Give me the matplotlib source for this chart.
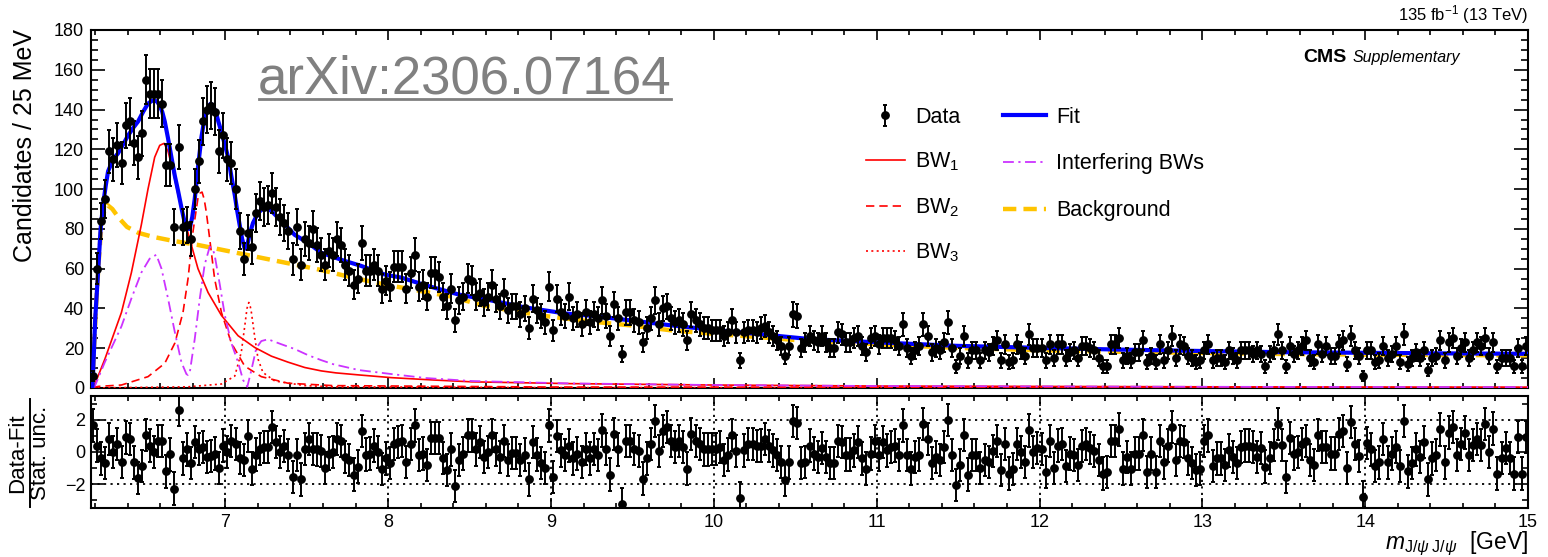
import numpy as np
import matplotlib.pyplot as plt
from matplotlib.lines import Line2D
from matplotlib.transforms import IdentityTransform
from matplotlib.ticker import MultipleLocator

plt.rcParams['font.family'] = ['Liberation Sans', 'DejaVu Sans']
plt.rcParams['mathtext.fontset'] = 'custom'
plt.rcParams['mathtext.rm'] = 'Liberation Sans'
plt.rcParams['mathtext.it'] = 'Liberation Sans:italic'
plt.rcParams['mathtext.bf'] = 'Liberation Sans:bold'

# candidates per 25 MeV bin, 6.175 - 15.0 GeV (353 bins)
counts = [
    6, 60, 84, 95, 119, 115, 122, 113, 132, 134, 123, 116, 128, 155, 148, 148, 148, 143, 112, 112,
    81, 121, 81, 82, 75, 100, 114, 134, 140, 142, 139, 119, 127, 115, 113, 100, 79, 65, 78, 71,
    88, 94, 91, 92, 98, 91, 86, 83, 79, 65, 81, 62, 75, 73, 80, 72, 67, 62, 69, 67,
    75, 72, 62, 59, 52, 55, 73, 59, 59, 62, 59, 50, 54, 51, 61, 61, 61, 50, 58, 67,
    51, 52, 46, 58, 58, 56, 46, 41, 50, 34, 44, 46, 55, 54, 46, 48, 43, 46, 52, 45,
    41, 48, 39, 41, 41, 37, 40, 30, 45, 39, 36, 33, 51, 29, 45, 38, 36, 46, 35, 37,
    32, 38, 33, 37, 35, 44, 36, 26, 42, 35, 17, 38, 38, 34, 33, 23, 30, 35, 44, 32,
    40, 41, 35, 33, 34, 32, 24, 37, 34, 32, 30, 30, 29, 29, 29, 26, 28, 34, 28, 14,
    28, 29, 29, 28, 30, 31, 28, 26, 24, 21, 16, 21, 37, 36, 20, 23, 26, 24, 23, 26,
    23, 20, 20, 28, 27, 23, 23, 25, 26, 21, 18, 25, 26, 22, 25, 25, 25, 24, 21, 32,
    20, 16, 19, 21, 32, 26, 18, 20, 19, 23, 33, 20, 11, 16, 26, 14, 19, 19, 14, 19,
    18, 21, 24, 14, 22, 13, 14, 22, 19, 16, 27, 20, 20, 20, 14, 22, 15, 22, 22, 15,
    18, 19, 15, 21, 21, 20, 19, 15, 11, 11, 22, 22, 25, 14, 16, 14, 18, 18, 24, 13,
    16, 13, 22, 14, 19, 26, 15, 22, 21, 16, 15, 13, 14, 19, 22, 14, 15, 15, 13, 19,
    16, 14, 19, 19, 19, 17, 19, 17, 11, 17, 19, 27, 19, 11, 21, 17, 19, 21, 24, 15,
    13, 22, 17, 21, 16, 16, 22, 24, 12, 26, 19, 16, 6, 19, 19, 13, 14, 21, 15, 17,
    21, 13, 27, 12, 15, 18, 15, 19, 9, 15, 16, 24, 14, 23, 25, 16, 20, 23, 15, 19,
    23, 21, 25, 16, 23, 11, 15, 15, 15, 11, 20, 11, 21,
]

# (data - fit) / stat. unc. for the same bins
pulls = [
    1.65, 0.4, -0.4, -0.7, 0.8, 0, 0.5, -0.6, 0.9, 0.8, -0.65, -1.6, -0.85, 1.07, 0.4, 0, 0.7, 0.7, -1.2, -0.15,
    -2.27, 2.6, -0.4, 0.16, -0.7, 0.6, 0.2, 0.3, -0.3, -0.25, -0.1, -1.0, 0.4, 0, 0.7, 0.5, -0.37, -0.5, 1.0, -1.03,
    -0.16, 0.2, 0.3, 0.3, 1.55, 0.6, 0, 0.37, -0.2, -1.55, -0.2, -1.7, 0.2, 0.8, 0.2, 0.16, 0.04, -1.0, -0.1, 0,
    0.8, 0.7, -0.3, -0.5, -1.4, -0.9, 1.28, -0.16, -0.1, 0.4, 0, -1.07, -0.4, -0.7, 0.5, 0.6, 0.7, -0.6, 0.5, 1.65,
    -0.2, -0.1, -0.8, 0.87, 0.87, 0.87, -0.37, -1.13, 0.16, -2.1, -0.5, -0.1, 1.03, 1.03, 0.16, 0.6, -0.3, 0, 1.03, 0.16,
    -0.3, 0.66, -0.5, -0.04, -0.04, -0.5, -0.16, -1.7, 0.6, -0.16, -0.7, -1.0, 1.65, -1.55, 1.0, 0.1, -0.2, 0.4, -0.4, -0.1,
    -0.6, 0.2, -0.4, 0.2, -0.2, 1.34, 0.2, -1.4, 1.13, 0.16, -3.2, 0.7, 0.7, 0.2, 0.04, -1.65, -0.4, 0.5, 1.9, 0.04,
    1.28, 1.55, 0.66, 0.3, 0.7, 0.3, -1.03, 1.13, 0.66, 0.5, 0.16, 0.16, 0.2, 0.2, 0.3, -0.5, -0.16, 1.07, 0.04, -2.85,
    0.1, 0.5, 0.5, 0.37, 0.4, 0.8, 0.37, 0.1, -0.2, -0.6, -1.75, -0.65, 1.9, 1.8, -0.7, -0.6, 0.4, -0.1, -0.3, 0.25,
    -0.3, -0.7, -0.7, 0.7, 0.6, -0.16, -0.16, 0.1, 0.6, -0.4, -1.03, -0.1, 0.7, -0.16, 0.6, 0.1, 0.3, 0.4, -0.2, 1.65,
    -0.2, -1.03, -0.3, -0.16, 1.75, 0.8, -0.7, -0.3, -0.5, 0.3, 2.0, -0.2, -2.06, -0.8, 1.07, -1.4, -0.2, -0.2, -1.0, -0.5,
    -0.6, 0.04, 0.7, -1.13, 0.5, -1.34, -1.07, 0.5, 0, -0.6, 1.34, 0, 0.25, 0.2, -1.24, 0.66, -1.0, 0.4, 0.5, -0.85,
    -0.1, -0.2, -0.8, 0.37, 0.5, 0.25, 0.04, -0.5, -1.34, -1.24, 0.66, 0.66, 1.4, -1.03, -0.3, -1.03, -0.1, -0.1, 1.07, -1.24,
    -0.1, -1.24, 0.7, -0.65, 0.4, 1.55, -0.5, 0.7, 0.6, -0.4, -0.7, -1.13, -1.03, 0.7, 1.03, -0.85, -0.4, -0.4, -0.8, 0.1,
    -0.3, -0.7, 0.3, 0.4, 0.4, 0.3, -0.3, 0.25, -0.9, -0.37, 0.45, 1.75, 0.45, -1.55, 0.87, -0.1, 0, 0.5, 0.66, -0.5,
    -0.8, 1.07, 0.3, 0.3, -0.1, -0.1, 1.13, 1.28, -1.0, 1.85, 0.5, -0.25, -2.8, 0.58, 0.16, -0.85, -0.65, 0.8, -0.65, -0.1,
    0.3, -0.85, 1.9, -1.2, -0.7, 0.16, -0.3, 0.6, -1.7, -0.4, -0.2, 1.4, -0.65, 1.2, 1.55, -0.2, 0.5, 1.2, -0.2, 0.45,
    0.8, 0.45, 1.75, 0, 1.45, -1.34, -0.37, 0.25, -0.37, -1.34, 0.93, -1.34, 0.93,
]

# fit components (mass in GeV, candidates / 25 MeV)
fit_m = [6.183, 6.188, 6.201, 6.219, 6.234, 6.249, 6.266, 6.280, 6.311, 6.341, 6.376, 6.403, 6.436, 6.464,
         6.496, 6.525, 6.551, 6.566, 6.581, 6.597, 6.612, 6.628, 6.647, 6.669, 6.689, 6.710, 6.732, 6.751,
         6.767, 6.781, 6.797, 6.812, 6.832, 6.853, 6.867, 6.883, 6.897, 6.910, 6.927, 6.944, 6.957, 6.975,
         6.998, 7.017, 7.038, 7.058, 7.073, 7.088, 7.103, 7.119, 7.133, 7.148, 7.170, 7.201, 7.241, 7.283,
         7.344, 7.426, 7.508, 7.589, 7.659, 7.729, 7.830, 7.981, 8.081, 8.232, 8.433, 8.634, 8.835, 9.086,
         9.287, 9.487, 9.739, 9.990, 10.29, 10.59, 10.99, 11.49, 11.99, 12.50, 13.00, 13.50, 14.00, 14.50, 15.00]
fit_y = [0, 8, 35, 59, 80, 92, 102, 109, 115, 118, 123, 127, 131, 134,
         139, 143, 144.5, 144.5, 144, 142, 139, 134, 126, 116, 107, 99, 90, 83,
         80, 80, 86, 95, 111, 126, 133, 138, 141.5, 143, 141.5, 138, 134, 129,
         122, 116, 106, 97, 89, 82, 75, 70, 71, 77, 83, 88, 91, 89,
         84, 77, 73, 68, 66, 64, 61.5, 57, 55.5, 51.6, 47, 44, 40.6, 37.5,
         36, 34, 31.5, 29.3, 27, 24.6, 23, 21.2, 20.2, 19.3, 18.6, 18.0, 17.7, 17.4, 17.2]

bkg_m = [6.183, 6.188, 6.204, 6.221, 6.236, 6.256, 6.276, 6.306, 6.346, 6.396, 6.466, 6.556, 6.677, 6.827,
         6.978, 7.128, 7.278, 7.429, 7.579, 7.781, 7.981, 8.182, 8.383, 8.583, 8.784, 8.984, 9.236, 9.487,
         9.738, 9.990, 10.24, 10.49, 10.74, 10.99, 11.49, 11.99, 12.50, 13.00, 13.50, 14.00, 14.50, 15.00]
bkg_y = [0, 10, 38, 62, 79, 89, 92, 90, 85.5, 81, 78, 76, 74, 72,
         69.5, 67, 64.5, 62, 59.5, 55.5, 52, 49, 46, 41.5, 38.5, 36, 33.5, 31.5,
         29, 27.3, 25.8, 24.2, 23, 22, 20.2, 19, 18.2, 17.6, 17.1, 16.8, 16.6, 16.4]

bw1_m = [6.183, 6.199, 6.260, 6.362, 6.423, 6.484, 6.525, 6.566, 6.597, 6.624, 6.648, 6.679, 6.710,
         6.751, 6.791, 6.832, 6.894, 6.976, 7.078, 7.180, 7.283, 7.385, 7.488, 7.589, 7.679, 7.830,
         8.021, 8.282, 8.513, 9.115, 9.990, 10.99, 11.99, 13.00, 14.00, 15.00]
bw1_y = [0, 2, 14.5, 38, 58, 82, 100, 116, 122, 123, 119, 109, 97,
         84, 72, 60, 48, 36.5, 26.3, 20.4, 16, 13, 10.3, 8.6, 7.6, 6.5,
         5.2, 4.0, 3.1, 2.2, 1.5, 1.0, 0.8, 0.6, 0.5, 0.4]

bw2_m = [6.183, 6.219, 6.362, 6.525, 6.628, 6.690, 6.740, 6.771, 6.802, 6.832, 6.845, 6.857, 6.870,
         6.883, 6.904, 6.934, 6.976, 7.037, 7.119, 7.221, 7.385, 7.661, 8.984, 15.00]
bw2_y = [0, 0.8, 1.5, 5.7, 12.4, 22.6, 38, 55, 79, 95.5, 98, 98.5, 95,
         88.5, 75, 55, 38, 22.6, 11, 5.7, 2.4, 1.2, 0.5, 0.2]

bw3_m = [6.183, 6.771, 6.976, 7.058, 7.098, 7.119, 7.133, 7.144, 7.153, 7.160, 7.180, 7.201, 7.231,
         7.304, 7.488, 7.661, 8.984, 15.00]
bw3_y = [0, 0.6, 2, 6, 18, 31, 40, 43, 41, 38, 26, 14.5, 7.8,
         3.5, 1.2, 0.6, 0.2, 0.05]

int_m = [6.183, 6.199, 6.260, 6.362, 6.423, 6.484, 6.535, 6.576, 6.608, 6.648, 6.690, 6.730, 6.761,
         6.771, 6.781, 6.812, 6.843, 6.873, 6.904, 6.922, 6.934, 6.966, 6.997, 7.037, 7.078, 7.109,
         7.135, 7.160, 7.190, 7.221, 7.262, 7.344, 7.426, 7.508, 7.589, 7.661, 7.821, 8.021, 8.232,
         8.513, 9.115, 9.990, 10.99, 11.99, 13.00, 14.00, 15.00]
int_y = [0, 1, 13, 31, 45, 58, 65, 67, 60, 45, 28, 13, 7,
         6.5, 7.5, 24.6, 45, 62, 71, 70, 67, 52, 36.5, 22.6, 13, 4,
         0.6, 9, 20, 23.6, 24.5, 22, 19.6, 16.5, 14, 12, 9, 7, 5,
         3.5, 2.3, 1.5, 1.0, 0.8, 0.6, 0.5, 0.45]

m_lo, m_hi, bin_w = 6.175, 15.0, 0.025
centers = m_lo + bin_w * (np.arange(len(counts)) + 0.5)
counts = np.array(counts, dtype=float)
errs = np.sqrt(counts)

W, H = 1548, 557
fig = plt.figure(figsize=(W / 100, H / 100), dpi=100)
ax = fig.add_axes([91 / W, 1 - 388 / H, 1437 / W, 358 / H])
ax2 = fig.add_axes([91 / W, 1 - 508 / H, 1437 / W, 112 / H])

c_red = '#ff0000'
c_mag = '#cc33ff'
c_gold = '#ffc400'
c_blue = '#0000ff'

h_bkg, = ax.plot(bkg_m, bkg_y, color=c_gold, lw=3.2, ls=(0, (3.0, 1.6)), label='Background', zorder=2)
h_bw1, = ax.plot(bw1_m, bw1_y, color=c_red, lw=1.2, label='BW$_1$', zorder=3)
h_bw2, = ax.plot(bw2_m, bw2_y, color=c_red, lw=1.2, ls=(0, (5, 3)), label='BW$_2$', zorder=3)
h_bw3, = ax.plot(bw3_m, bw3_y, color=c_red, lw=1.2, ls=(0, (1.2, 2)), label='BW$_3$', zorder=3)
h_int, = ax.plot(int_m, int_y, color=c_mag, lw=1.3, ls=(0, (6, 2.5, 1.2, 2.5)), label='Interfering BWs', zorder=3)
h_fit, = ax.plot(fit_m, fit_y, color=c_blue, lw=3.0, label='Fit', zorder=4)

h_data = ax.errorbar(centers, counts, yerr=errs, fmt='o', color='black', ms=5.3, elinewidth=1.4,
                     capsize=1.6, capthick=1.4, label='Data', zorder=5)

ax.set_xlim(m_lo, m_hi)
ax.set_ylim(0, 180)
ax.yaxis.set_major_locator(MultipleLocator(20))
ax.yaxis.set_minor_locator(MultipleLocator(5))
ax.xaxis.set_major_locator(MultipleLocator(1))
ax.xaxis.set_minor_locator(MultipleLocator(0.2))
ax.tick_params(axis='both', which='both', direction='in', top=True, right=True, width=1.2)
ax.tick_params(axis='x', which='major', length=7)
ax.tick_params(axis='x', which='minor', length=3.5)
ax.tick_params(axis='y', which='major', length=10)
ax.tick_params(axis='y', which='minor', length=5)
ax.tick_params(axis='y', labelsize=13, pad=5)
ax.tick_params(axis='x', labelbottom=False)
for s in ax.spines.values():
    s.set_linewidth(1.5)

leg_kw = dict(frameon=False, loc='upper left', borderaxespad=0, fontsize=15.5,
              handletextpad=0.5, borderpad=0.4)
leg1 = ax.legend(handles=[h_data, h_bw1, h_bw2, h_bw3], bbox_to_anchor=(0.5333, 0.8095),
                 labelspacing=1.06, handlelength=1.8, **leg_kw)
ax.add_artist(leg1)
leg2 = ax.legend(handles=[h_fit, h_int, h_bkg], bbox_to_anchor=(0.6287, 0.8095),
                 labelspacing=1.19, handlelength=1.98, **leg_kw)

# residual panel
ax2.errorbar(centers, pulls, yerr=1.0, fmt='o', color='black', ms=5.3, elinewidth=1.4,
             capsize=1.6, capthick=1.4, zorder=5)
ax2.set_xlim(m_lo, m_hi)
ax2.set_ylim(-3.47, 3.47)
ax2.set_yticks([-2, 0, 2])
ax2.yaxis.set_minor_locator(MultipleLocator(1))
ax2.xaxis.set_major_locator(MultipleLocator(1))
ax2.xaxis.set_minor_locator(MultipleLocator(0.2))
ax2.grid(axis='x', which='major', color='black', ls=(0, (1.2, 2.4)), lw=1.3)
for yv in (-2, 2):
    ax2.axhline(yv, color='black', ls=(0, (1.2, 2.4)), lw=1.3, zorder=1)
ax2.tick_params(axis='both', which='both', direction='in', top=True, right=True, width=1.2)
ax2.tick_params(axis='x', which='major', length=7)
ax2.tick_params(axis='x', which='minor', length=3.5)
ax2.tick_params(axis='y', which='major', length=9)
ax2.tick_params(axis='y', which='minor', length=4.5)
ax2.tick_params(axis='both', labelsize=13, pad=4)
for s in ax2.spines.values():
    s.set_linewidth(1.5)

fig.text(25 / W, 1 - 29 / H, 'Candidates / 25 MeV', rotation=90, ha='center', va='top', fontsize=18)

# residual axis title drawn as a fraction
fig.text(18 / W, 1 - 453 / H, 'Data-Fit', rotation=90, ha='center', va='center', fontsize=16)
fig.text(41 / W, 1 - 453 / H, 'Stat. unc.', rotation=90, ha='center', va='center', fontsize=16)
fig.add_artist(Line2D([29.5 / W, 29.5 / W], [1 - 507 / H, 1 - 399 / H], color='black', lw=1.4,
                      transform=fig.transFigure))

fig.text(1528 / W, 1 - 549 / H, r'$m_{\mathrm{J}/\psi\;\mathrm{J}/\psi}$  [GeV]', ha='right', va='baseline',
         fontsize=16.5)
fig.text(1528 / W, 1 - 20 / H, '135 fb$^{-1}$ (13 TeV)', ha='right', va='baseline', fontsize=12)

supp = ax.text((1460 - 91) / 1437, (388 - 62) / 358, 'Supplementary', transform=ax.transAxes,
               ha='right', va='baseline', fontsize=11.5, style='italic')
arx = ax.text((258 - 91) / 1437, (388 - 94) / 358, 'arXiv:2306.07164', transform=ax.transAxes,
              ha='left', va='baseline', fontsize=38, color='#808080')

fig.canvas.draw()
bb = supp.get_window_extent()
x_cms, y_cms = ax.transAxes.inverted().transform((bb.x0 - 6, 0))
ax.text(x_cms, (388 - 62) / 358, 'CMS', transform=ax.transAxes, ha='right', va='baseline',
        fontsize=14, fontweight='bold')

ab = arx.get_window_extent()
y_ul = H - 99
fig.add_artist(Line2D([ab.x0 + 1, ab.x1 - 1], [y_ul, y_ul], color='#808080', lw=2.0,
                      transform=IdentityTransform()))

fig.savefig('out.png', dpi=100)
